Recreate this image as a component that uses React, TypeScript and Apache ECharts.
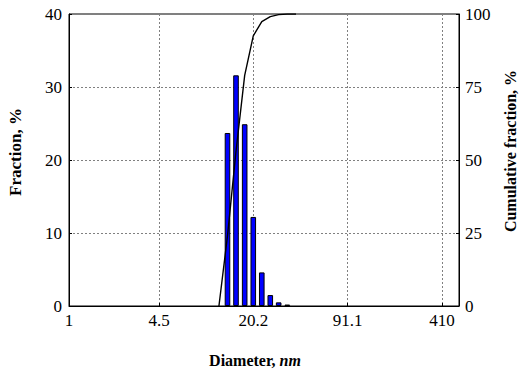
import React, { useEffect, useRef } from "react";
import * as echarts from "echarts";

// Histogram bins (bin centres, nm) and fractions (%)
const binDiameters = [13.41, 15.36, 17.64, 20.23, 23.17, 26.53, 30.33, 34.8];
const fractions = [23.7, 31.6, 24.9, 12.2, 4.6, 1.5, 0.5, 0.2];

// Cumulative curve (nm, %)
const cumDiameters = [11.7, 13.41, 15.36, 17.64, 20.23, 23.17, 26.53, 30.33, 34.8, 40];
const cumulative = [0, 24, 53, 79, 92.5, 97.4, 99.1, 99.8, 100, 100];

// Axis ticks
const xTickValues = [1, 4.5, 20.25, 91.125, 410.0625];
const xTickLabels = ["1", "4.5", "20.2", "91.1", "410"];
const xMin = 1.071;
const xMax = 538;

const FONT = "'Liberation Serif', 'Times New Roman', serif";

export default function App() {
  const ref = useRef<HTMLDivElement>(null);

  useEffect(() => {
    if (!ref.current) return;
    const chart = echarts.init(ref.current, undefined, { renderer: "svg" });
    const logB = (v: number) => Math.log(v) / Math.log(4.5);
    const labelFor = (v: number) => {
      for (let i = 0; i < xTickValues.length; i++) {
        if (Math.abs(logB(v) - logB(xTickValues[i])) < 0.1) return xTickLabels[i];
      }
      return "";
    };
    const splitStyle = { color: "#808080", type: [2, 2] as any, width: 1 };
    const labelStyle = { color: "#000", fontFamily: FONT, fontSize: 17 };
    chart.setOption({
      animation: false,
      backgroundColor: "#fff",
      grid: {
        left: 69,
        top: 14,
        width: 390,
        height: 292,
        show: true,
        borderColor: "#000",
        borderWidth: 1,
        backgroundColor: "transparent",
      },
      xAxis: {
        type: "log",
        logBase: 4.5,
        min: xMin,
        max: xMax,
        axisLine: { show: true, lineStyle: { color: "#000", width: 1 } },
        axisTick: { show: true, inside: true, length: 3, lineStyle: { color: "#000" } },
        axisLabel: { ...labelStyle, margin: 6, formatter: (v: number) => labelFor(v) },
        splitLine: { show: true, lineStyle: splitStyle },
        minorTick: { show: false },
        minorSplitLine: { show: false },
      },
      yAxis: [
        {
          type: "value",
          min: 0,
          max: 40,
          interval: 10,
          axisLine: { show: true, lineStyle: { color: "#000", width: 1 } },
          axisTick: { show: true, inside: true, length: 3, lineStyle: { color: "#000" } },
          axisLabel: { ...labelStyle, margin: 7 },
          splitLine: { show: true, lineStyle: splitStyle },
        },
        {
          type: "value",
          position: "right",
          min: 0,
          max: 100,
          interval: 25,
          axisLine: { show: true, lineStyle: { color: "#000", width: 1 } },
          axisTick: { show: true, inside: true, length: 3, lineStyle: { color: "#000" } },
          axisLabel: { ...labelStyle, margin: 6 },
          splitLine: { show: false },
        },
      ],
      series: [
        {
          type: "bar",
          xAxisIndex: 0,
          yAxisIndex: 0,
          barWidth: 5.6,
          data: binDiameters.map((d, i) => [d, fractions[i]]),
          itemStyle: { color: "#0000ff", borderColor: "#000", borderWidth: 1 },
        },
        {
          type: "line",
          xAxisIndex: 0,
          yAxisIndex: 1,
          data: cumDiameters.map((d, i) => [d, cumulative[i]]),
          showSymbol: false,
          symbol: "none",
          smooth: false,
          lineStyle: { color: "#000", width: 1.4 },
          z: 5,
        },
      ],
      graphic: [
        {
          type: "text",
          x: 15,
          y: 152,
          rotation: Math.PI / 2,
          style: {
            text: "Fraction, %",
            font: `bold 17px ${FONT}`,
            fill: "#000",
            align: "center",
            verticalAlign: "middle",
          },
        },
        {
          type: "text",
          x: 510,
          y: 151,
          rotation: Math.PI / 2,
          style: {
            text: "Cumulative fraction, %",
            font: `bold 16px ${FONT}`,
            fill: "#000",
            align: "center",
            verticalAlign: "middle",
          },
        },
        {
          type: "text",
          x: 255,
          y: 360,
          style: {
            text: "{b|Diameter, }{i|nm}",
            align: "center",
            verticalAlign: "middle",
            rich: {
              b: { fontFamily: FONT, fontWeight: "bold", fontSize: 16, fill: "#000" },
              i: { fontFamily: FONT, fontWeight: "bold", fontStyle: "italic", fontSize: 16, fill: "#000" },
            },
          },
        },
      ],
    });
    return () => chart.dispose();
  }, []);

  return (
    <div
      ref={ref}
      style={{ position: "absolute", left: 0, top: 0, width: 522, height: 369, background: "#fff" }}
    />
  );
}
